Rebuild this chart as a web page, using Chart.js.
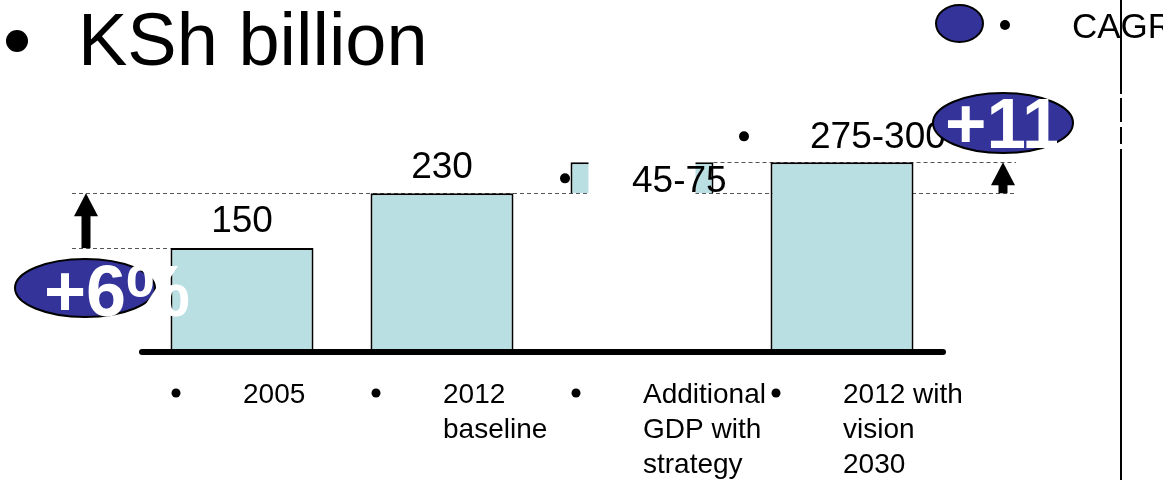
<!DOCTYPE html>
<html>
<head>
<meta charset="utf-8">
<script src="https://cdn.jsdelivr.net/npm/chart.js@4/dist/chart.umd.min.js"></script>
<style>
  body { margin: 0; background: #fff; }
  #wrap { width: 1163px; height: 480px; }
</style>
</head>
<body>
<div id="wrap"><canvas id="gdpChart" width="1163" height="480"></canvas></div>
<script>
// data
const categories = [["2005"], ["2012", "baseline"], ["Additional", "GDP with", "strategy"], ["2012 with", "vision", "2030"]];
const barStarts = [0, 0, 230, 0];
const barEnds = [150, 230, 275, 275];
const valueLabels = ["150", "230", "45-75", "275-300"];
const growthLabels = ["+6%", "+11%"];
const unitTitle = "KSh billion";
const legendText = "CAGR";

const FONT = "'Liberation Sans', Arial, sans-serif";
const barColor = "#B9DFE3";

function dashed(ctx, x1, x2, y) {
  ctx.save();
  ctx.strokeStyle = "#555";
  ctx.lineWidth = 1;
  ctx.setLineDash([4, 3]);
  ctx.beginPath();
  ctx.moveTo(x1, y + 0.5);
  ctx.lineTo(x2, y + 0.5);
  ctx.stroke();
  ctx.restore();
}

function arrow(ctx, x, yTop, yBottom) {
  ctx.save();
  ctx.fillStyle = "#000";
  ctx.fillRect(x - 4.5, yTop + 20, 9, yBottom - yTop - 20);
  ctx.beginPath();
  ctx.moveTo(x, yTop);
  ctx.lineTo(x + 12, yTop + 23);
  ctx.lineTo(x - 12, yTop + 23);
  ctx.closePath();
  ctx.fill();
  ctx.restore();
}

function ellipse(ctx, cx, cy, rx, ry) {
  ctx.save();
  ctx.beginPath();
  ctx.ellipse(cx, cy, rx, ry, 0, 0, Math.PI * 2);
  ctx.fillStyle = "#333399";
  ctx.fill();
  ctx.lineWidth = 2;
  ctx.strokeStyle = "#000";
  ctx.stroke();
  ctx.restore();
}

function dot(ctx, x, y, r) {
  ctx.beginPath();
  ctx.arc(x, y, r, 0, Math.PI * 2);
  ctx.fillStyle = "#000";
  ctx.fill();
}

const decor = {
  id: "decor",
  beforeDatasetsDraw(chart) {
    const ctx = chart.ctx;
    const y = chart.scales.y;
    const meta = chart.getDatasetMeta(0).data;
    const y150 = Math.round(y.getPixelForValue(barEnds[0]));
    const y230 = Math.round(y.getPixelForValue(barEnds[1]));
    const y275 = Math.round(y.getPixelForValue(barEnds[3]));
    dashed(ctx, 72, meta[0].x - meta[0].width / 2, y150);
    dashed(ctx, 72, 1016, y230);
    dashed(ctx, meta[2].x + meta[2].width / 2, 1016, y275);
  },
  afterDatasetsDraw(chart) {
    const ctx = chart.ctx;
    const x = chart.scales.x, y = chart.scales.y;
    const area = chart.chartArea;
    const meta = chart.getDatasetMeta(0).data;
    const y150 = y.getPixelForValue(barEnds[0]);
    const y230 = y.getPixelForValue(barEnds[1]);
    const y275 = y.getPixelForValue(barEnds[3]);

    // white label box hiding middle of the floating bar
    ctx.fillStyle = "#fff";
    ctx.fillRect(meta[2].x - meta[2].width / 2 + 18, y275 - 8, meta[2].width - 36, y230 - y275 + 11);

    // baseline
    ctx.save();
    ctx.strokeStyle = "#000";
    ctx.lineWidth = 6;
    ctx.lineCap = "round";
    ctx.beginPath();
    ctx.moveTo(area.left, area.bottom + 1);
    ctx.lineTo(area.right + 1, area.bottom + 1);
    ctx.stroke();
    ctx.restore();

    // value labels
    ctx.fillStyle = "#000";
    ctx.font = "37px " + FONT;
    ctx.textBaseline = "alphabetic";
    ctx.textAlign = "center";
    ctx.fillText(valueLabels[0], meta[0].x, y150 - 16);
    ctx.fillText(valueLabels[1], meta[1].x, y230 - 15);
    ctx.textAlign = "left";
    dot(ctx, meta[2].x - 77, y275 + 16, 5);
    ctx.fillStyle = "#000";
    ctx.fillText(valueLabels[2], meta[2].x - 10, y230 - 1);
    dot(ctx, meta[3].x - 98, y275 - 26, 5);
    ctx.fillStyle = "#000";
    ctx.fillText(valueLabels[3], meta[3].x - 32, y275 - 14);

    // category labels
    ctx.font = "28px " + FONT;
    categories.forEach((lines, i) => {
      const cx = x.getPixelForValue(i);
      dot(ctx, cx - 66, 393, 4.5);
      ctx.fillStyle = "#000";
      lines.forEach((t, j) => ctx.fillText(t, cx + 1, 403 + j * 35));
    });

    // arrows
    arrow(ctx, 86, y230, y150);
    arrow(ctx, 1003, y275, y230);

    // growth ellipses
    ellipse(ctx, 85, 288, 70, 29);
    ctx.fillStyle = "#fff";
    ctx.font = "bold 72px " + FONT;
    ctx.fillText(growthLabels[0], 44, 316);

    ellipse(ctx, 1003, 123, 70, 30);
    ctx.save();
    ctx.beginPath();
    ctx.rect(900, 80, 157, 90);
    ctx.clip();
    ctx.fillStyle = "#fff";
    ctx.font = "bold 71px " + FONT;
    ctx.fillText(growthLabels[1], 945, 148);
    ctx.restore();

    // title
    dot(ctx, 17, 41, 11);
    ctx.fillStyle = "#000";
    ctx.font = "74px " + FONT;
    ctx.fillText(unitTitle, 78, 65);

    // legend
    ellipse(ctx, 959.5, 23.5, 23.5, 18.5);
    dot(ctx, 1005, 25, 5);
    ctx.fillStyle = "#000";
    ctx.font = "35px " + FONT;
    ctx.fillText(legendText, 1072, 38);

    // frame line on the right
    ctx.fillStyle = "#000";
    ctx.fillRect(1120, 0, 2, 480);
    ctx.fillStyle = "#fff";
    ctx.fillRect(1119, 94, 4, 4);
    ctx.fillRect(1119, 122, 4, 5);
    ctx.fillRect(1119, 144, 4, 5);
  }
};

new Chart(document.getElementById("gdpChart"), {
  type: "bar",
  data: {
    labels: categories,
    datasets: [{
      data: barStarts.map((s, i) => [s, barEnds[i]]),
      backgroundColor: barColor,
      borderColor: "#000",
      borderWidth: 2,
      borderSkipped: "start",
      barPercentage: 0.715,
      categoryPercentage: 1
    }]
  },
  options: {
    responsive: false,
    animation: false,
    layout: { padding: { left: 142, right: 221, top: 8, bottom: 129 } },
    plugins: { legend: { display: false }, tooltip: { enabled: false } },
    scales: {
      x: { display: false },
      y: { display: false, min: 0, max: 500 }
    }
  },
  plugins: [decor]
});
</script>
</body>
</html>
